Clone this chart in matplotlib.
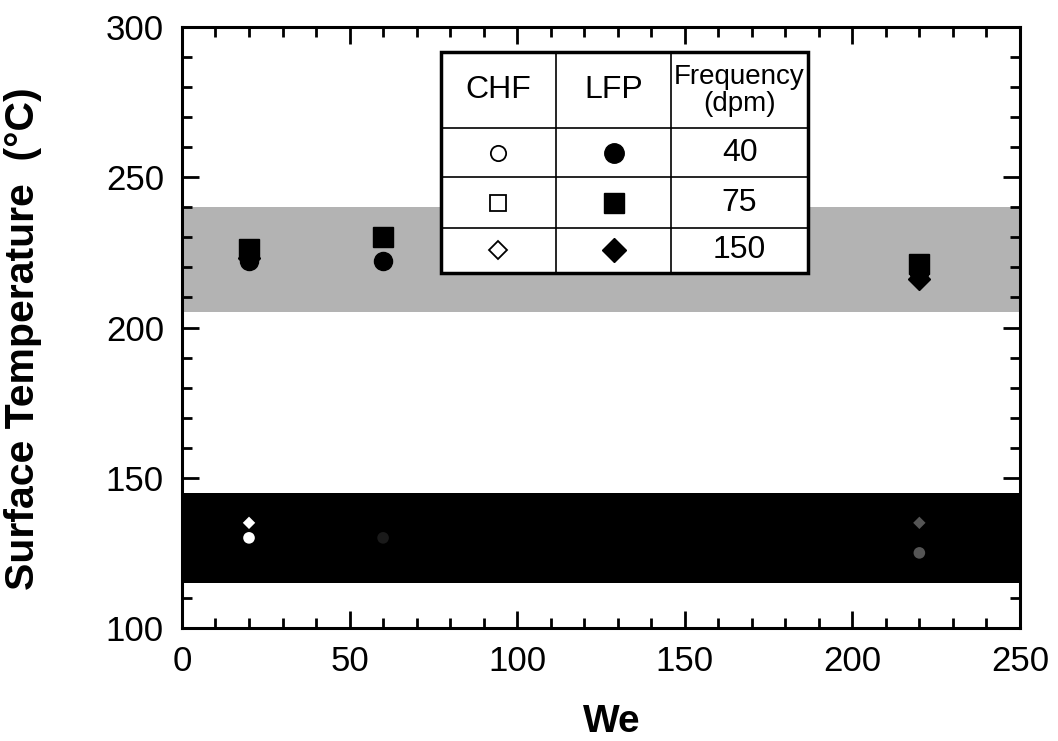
import matplotlib.pyplot as plt
import numpy as np
from matplotlib.patches import Rectangle
from matplotlib.ticker import MultipleLocator

plt.rcParams['font.family'] = ['Liberation Sans', 'DejaVu Sans']

# bands (surface temperature ranges)
lfp_band = (205, 240)
chf_band = (115, 145)

# LFP data (filled markers)
lfp_circle_we = [20, 60, 220]
lfp_circle_t = [222, 222, 218]
lfp_square_we = [20, 60, 220]
lfp_square_t = [226, 230, 221]
lfp_diamond_we = [20, 220]
lfp_diamond_t = [223, 216]

# CHF data (open markers, drawn inside the black band)
chf_circle_we = [20, 60, 220]
chf_circle_t = [130, 130, 125]
chf_circle_col = ['white', '#1a1a1a', '#555555']
chf_diamond_we = [20, 220]
chf_diamond_t = [135, 135]
chf_diamond_col = ['white', '#555555']

freq_labels = ['40', '75', '150']
table_markers = ['o', 's', 'D']

fig = plt.figure(figsize=(10.58, 7.41), dpi=100)
ax = fig.add_axes([0.172, 0.1525, 0.792, 0.811])

ax.axhspan(lfp_band[0], lfp_band[1], color='#b3b3b3', lw=0, zorder=1)
ax.axhspan(chf_band[0], chf_band[1], color='black', lw=0, zorder=1)

ax.plot(lfp_circle_we, lfp_circle_t, 'o', color='black', ms=13, zorder=3)
ax.plot(lfp_square_we, lfp_square_t, 's', color='black', ms=15, zorder=3)
ax.plot(lfp_diamond_we, lfp_diamond_t, 'D', color='black', ms=11, zorder=3)

ax.scatter(chf_circle_we, chf_circle_t, marker='o', s=70, c=chf_circle_col, lw=0, zorder=3)
ax.scatter(chf_diamond_we, chf_diamond_t, marker='D', s=40, c=chf_diamond_col, lw=0, zorder=3)

ax.set_xlim(0, 250)
ax.set_ylim(100, 300)
ax.xaxis.set_major_locator(MultipleLocator(50))
ax.xaxis.set_minor_locator(MultipleLocator(10))
ax.yaxis.set_major_locator(MultipleLocator(50))
ax.yaxis.set_minor_locator(MultipleLocator(10))
ax.tick_params(which='both', direction='in', top=True, right=True, width=2, labelsize=25)
ax.tick_params(which='major', length=12)
ax.tick_params(axis='y', which='major', pad=13)
ax.tick_params(axis='x', which='major', pad=12)
ax.tick_params(which='minor', length=7)
for s in ax.spines.values():
    s.set_linewidth(2.2)
    s.set_zorder(5)

ax.set_xlabel('We', fontsize=28, fontweight='bold', labelpad=19)
ax.set_ylabel('Surface Temperature  (°C)', fontsize=29.5, fontweight='bold', labelpad=46)
ax.xaxis.label.set_x(0.513)
ax.yaxis.label.set_y(0.481)

# legend table in axes coordinates
cols = [0.309, 0.446, 0.584, 0.747]
rows = [0.958, 0.832, 0.750, 0.666, 0.591]
tr = ax.transAxes
ax.add_patch(Rectangle((cols[0], rows[-1]), cols[-1] - cols[0], rows[0] - rows[-1],
                       transform=tr, facecolor='white', edgecolor='black', lw=2.5, zorder=6))
for c in cols[1:-1]:
    ax.plot([c, c], [rows[-1], rows[0]], transform=tr, color='black', lw=1.2, zorder=7)
for r in rows[1:-1]:
    ax.plot([cols[0], cols[-1]], [r, r], transform=tr, color='black', lw=1.2, zorder=7)

ax.text((cols[0] + cols[1]) / 2, (rows[0] + rows[1]) / 2, 'CHF', transform=tr,
        ha='center', va='center', fontsize=23, zorder=8)
ax.text((cols[1] + cols[2]) / 2, (rows[0] + rows[1]) / 2, 'LFP', transform=tr,
        ha='center', va='center', fontsize=23, zorder=8)
ax.text((cols[2] + cols[3]) / 2, (rows[0] + rows[1]) / 2, 'Frequency\n(dpm)', transform=tr,
        ha='center', va='center', fontsize=20, linespacing=1.05, zorder=8)
for i, (m, lab) in enumerate(zip(table_markers, freq_labels)):
    yc = (rows[i + 1] + rows[i + 2]) / 2
    ms_open = 11 if m != 'D' else 9
    ms_fill = 14 if m != 'D' else 12
    ax.plot((cols[0] + cols[1]) / 2, yc, m, transform=tr, ms=ms_open, mfc='white',
            mec='black', mew=1.3, zorder=8, clip_on=False)
    ax.plot((cols[1] + cols[2]) / 2, yc, m, transform=tr, ms=ms_fill, color='black',
            zorder=8, clip_on=False)
    ax.text((cols[2] + cols[3]) / 2, yc, lab, transform=tr, ha='center', va='center',
            fontsize=23, zorder=8)

fig.savefig('out.png', dpi=100)
